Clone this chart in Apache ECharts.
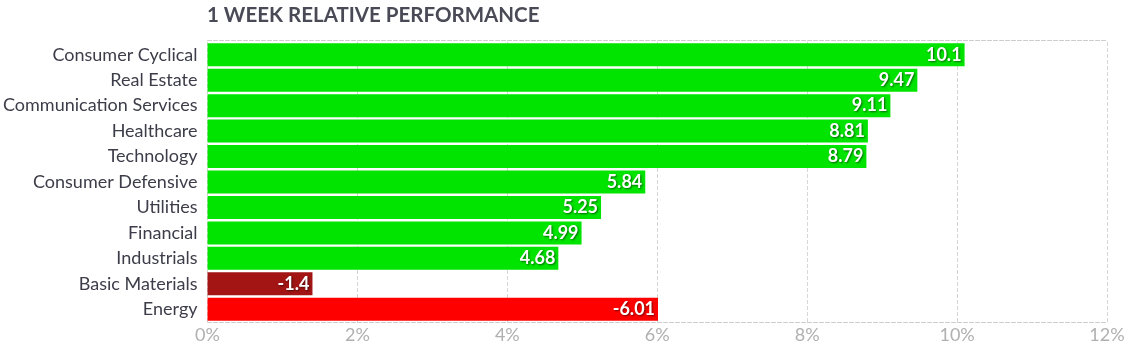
<!DOCTYPE html>
<html><head><meta charset="utf-8">
<script src="https://cdn.jsdelivr.net/npm/echarts@6/dist/echarts.min.js"></script>
<style>html,body{margin:0;padding:0;background:#fff}#c{width:1134px;height:351px}</style>
</head><body><div id="c"></div>
<script>
const categories = ["Consumer Cyclical","Real Estate","Communication Services","Healthcare","Technology","Consumer Defensive","Utilities","Financial","Industrials","Basic Materials","Energy"];
const values = [10.1, 9.47, 9.11, 8.81, 8.79, 5.84, 5.25, 4.99, 4.68, -1.4, -6.01];
const barColors = ["#00e400","#00e400","#00e400","#00e400","#00e400","#00e400","#00e400","#00e400","#00e400","#a31515","#ff0000"];
const xTicks = [0, 2, 4, 6, 8, 10, 12];

const chart = echarts.init(document.getElementById('c'));
const data = values.map((v, i) => ({ value: Math.abs(v), raw: v, itemStyle: { color: barColors[i] } }));
chart.setOption({
  animation: false,
  title: { text: "1 WEEK RELATIVE PERFORMANCE", left: 202, top: 0,
    textStyle: { fontFamily: "Lato", fontWeight: "bold", fontSize: 20.5, color: "#4a4a57" } },
  grid: { left: 207, right: 27, top: 42, bottom: 29, containLabel: false },
  xAxis: [{
    type: 'value', min: xTicks[0], max: xTicks[xTicks.length-1], interval: 2,
    axisLine: { show: true, lineStyle: { color: '#cccccc', type: 'dashed' } },
    axisTick: { show: false },
    splitLine: { show: true, lineStyle: { color: '#d6d6d6', type: 'dashed' } },
    axisLabel: { formatter: '{value}%', fontFamily: 'Lato', fontSize: 18, color: '#b0b0b0', margin: 4 }
  }, {
    type: 'value', position: 'top', offset: 2, min: 0, max: 12, interval: 2,
    axisLine: { show: true, lineStyle: { color: '#cccccc', type: 'dashed' } },
    axisTick: { show: false }, axisLabel: { show: false }, splitLine: { show: false }
  }],
  yAxis: {
    type: 'category', data: categories, inverse: true,
    axisLine: { show: false }, axisTick: { show: false },
    axisLabel: { fontFamily: 'Lato', fontSize: 18, color: '#3d3d4a', margin: 10 }
  },
  series: [{
    type: 'bar', data: data, barWidth: 23, xAxisIndex: 0,
    label: { show: true, position: 'insideRight', distance: 3,
      formatter: p => String(p.data.raw),
      fontFamily: 'Lato', fontWeight: 'bold', fontSize: 18, color: '#fff',
      textShadowColor: 'rgba(0,0,0,0.55)', textShadowBlur: 2, textShadowOffsetX: 1, textShadowOffsetY: 1 }
  }]
});
</script></body></html>
